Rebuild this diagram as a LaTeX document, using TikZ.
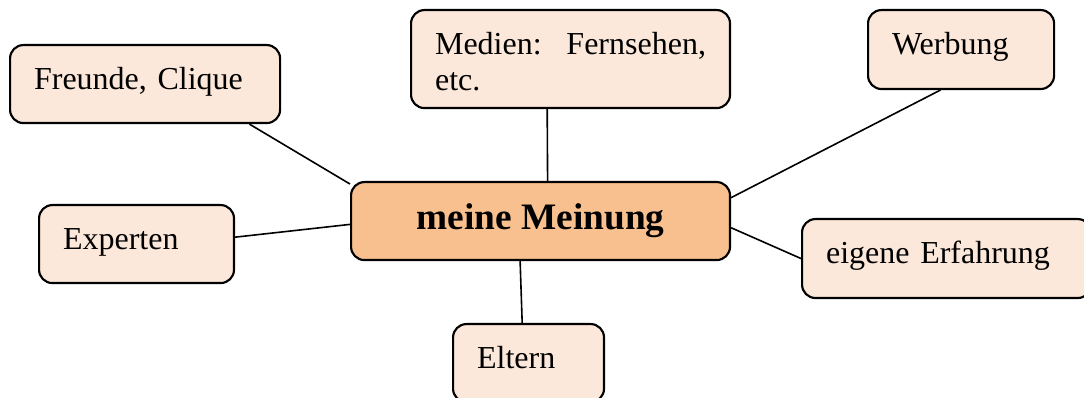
\documentclass[tikz,border=0pt]{standalone}
\usepackage{fontspec}
\setmainfont{Liberation Serif}
\usepackage{xcolor}
\usepackage{tikz}

\definecolor{boxlight}{HTML}{FCE8DA}
\definecolor{boxmain}{HTML}{F8C08E}

\tikzset{
	idea/.style={draw, line width=0.8pt, rounded corners=5pt, fill=boxlight,
		anchor=north west, align=left, inner xsep=9pt, inner ysep=0pt,
		text height=16.5pt, font=\fontsize{12}{13.8}\selectfont},
	mainidea/.style={draw, line width=0.8pt, rounded corners=5pt, fill=boxmain,
		anchor=north west, align=center, minimum width=142.1pt, minimum height=29.25pt,
		font=\fontsize{14}{17}\selectfont\bfseries},
	link/.style={line width=0.6pt}
}

\begin{document}
\begin{tikzpicture}[x=0.375pt, y=-0.375pt]
	\useasboundingbox (0,0) rectangle (1084,398);
	\node[mainidea](m) at (350,181) {meine Meinung}; %%% centre
	\node[idea, text width=83.25pt, text depth=12.75pt](fr) at (9,44) {Freunde, Clique};
	\node[idea, text width=101.6pt, text depth=20.25pt](me) at (410,9) {Medien:\hfill Fernsehen,\\etc.};
	\node[idea, text width=51.75pt, text depth=13.1pt](we) at (867,9) {Werbung};
	\node[idea, text width=55.1pt, text depth=12.75pt](ex) at (38,204) {Experten};
	\node[idea, text width=90.4pt, text depth=13.1pt](er) at (801,218) {eigene Erfahrung};
	\node[idea, text width=38.6pt, text depth=12.75pt](el) at (452,323) {Eltern};
	
	\draw[link] (fr.-21.5) -- (m.169);
	\draw[link] (me.-115.6) -- (m.80.5);
	\draw[link] (we.-117) -- (m.7.8);
	\draw[link] (ex.4.7) -- (m.181.8);
	\draw[link] (er.180.6) -- (m.-2);
	\draw[link] (el.99.5) -- (m.-117.7);
\end{tikzpicture}
\end{document}
